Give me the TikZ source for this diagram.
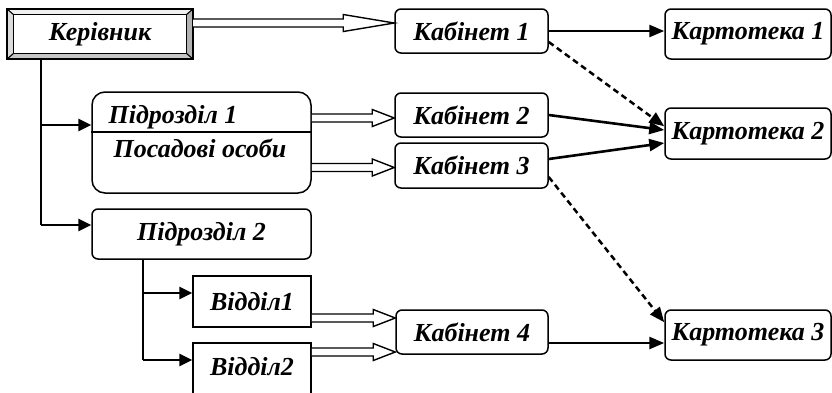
\documentclass[tikz,border=0pt]{standalone}
\usepackage{fontspec}
\setmainfont{Liberation Serif}
\usetikzlibrary{arrows.meta,calc}

% hollow (outlined) arrow: #1 start point, #2 tip, #3 head length
\newcommand\hollowarrow[3]{%
  \draw[hollow] ($(#1)+(0,-4)$) -- ($(#2)+(-#3,-4)$) -- ($(#2)+(-#3,-8.5)$)
    -- (#2) -- ($(#2)+(-#3,8.5)$) -- ($(#2)+(-#3,4)$) -- ($(#1)+(0,4)$);}

\begin{document}
\begin{tikzpicture}[x=1pt,y=-1pt,
  font=\fontsize{26}{30}\selectfont\bfseries\itshape,
  box/.style={draw, line width=1.5pt, fill=white, rounded corners=6pt,
              inner sep=0pt, minimum height=44pt},
  sqbox/.style={box, rounded corners=0pt},
  plain/.style={draw=none, inner sep=0pt},
  hollow/.style={line width=1.4pt, fill=white, line join=miter},
  trunk/.style={line width=1.5pt},
  branch/.style={line width=2.8pt, -{Triangle[length=13pt,width=12pt]}},
  link/.style={line width=2.6pt, -{Triangle[length=15pt,width=12pt]}},
  dashlink/.style={line width=2.5pt, dash pattern=on 6pt off 4pt,
                   -{Triangle[length=15pt,width=12pt]}}]
\useasboundingbox (0,0) rectangle (832,392);

% ---- head of the organisation (bevelled frame)
\node[plain, minimum width=186pt, minimum height=50pt] (ker) at (100,34) {};
\coordinate (kA) at ($(ker.north west)+(7,6)$);
\coordinate (kB) at ($(ker.north east)+(-7,6)$);
\coordinate (kC) at ($(ker.south east)+(-7,-6)$);
\coordinate (kD) at ($(ker.south west)+(7,-6)$);
\fill[gray!12] (ker.north west) -- (ker.north east) -- (kB) -- (kA) -- cycle;
\fill[gray!28] (ker.north west) -- (kA) -- (kD) -- (ker.south west) -- cycle;
\fill[gray!60] (ker.north east) -- (ker.south east) -- (kC) -- (kB) -- cycle;
\fill[gray!45] (ker.south west) -- (kD) -- (kC) -- (ker.south east) -- cycle;
\fill[white] (kA) rectangle (kC);
\draw[line width=1.5pt] (ker.north west) rectangle (ker.south east);
\draw[line width=1.1pt] (kA) rectangle (kC);
\draw[line width=1.1pt] (ker.north west) -- (kA) (ker.north east) -- (kB)
  (ker.south east) -- (kC) (ker.south west) -- (kD);
\node[plain] at (ker.center) {Керівник};

% ---- offices
\node[box, minimum width=153pt] (k1) at (471.5,31) {Кабінет 1};
\node[box, minimum width=153pt] (k2) at (471.5,115) {Кабінет 2};
\node[box, minimum width=153pt, minimum height=45pt] (k3) at (471.5,165.5) {Кабінет 3};
\node[box, minimum width=152pt] (k4) at (472,332) {Кабінет 4};

% ---- card files
\node[box, minimum width=166pt, minimum height=50pt] (c1) at (748,34) {Картотека 1};
\node[box, minimum width=166pt, minimum height=51pt] (c2) at (748,133.5) {Картотека 2};
\node[box, minimum width=166pt, minimum height=50pt] (c3) at (748,335) {Картотека 3};

% ---- subdivisions
\node[box, rounded corners=13pt, minimum width=219pt, minimum height=101pt] (p1) at (201.5,142.5) {};
\draw[line width=1.5pt] (p1.west |- 0,132) -- (p1.east |- 0,132);
\node[plain] (p1a) at (173,117) {Підрозділ 1};
\node[plain] (p1b) at (200,148) {Посадові особи};
\node[box, minimum width=219pt, minimum height=50pt] (p2) at (201.5,234) {Підрозділ 2};

% ---- departments
\node[sqbox, minimum width=118pt, minimum height=51pt] (v1) at (252,301.5) {Відділ1};
\node[sqbox, minimum width=118pt, minimum height=51pt] (v2) at (252,368.5) {};
\node[plain] (v2t) at (252,367) {Відділ2};

% ---- subordination lines
\coordinate (j1) at (41,125);
\coordinate (j2) at (41,225);
\draw[trunk] (ker.south -| j1) -- (j2);
\draw[branch] (j1) -- (j1 -| p1.west);
\draw[branch] (j2) -- (j2 -| p2.west);
\coordinate (j3) at (143,293);
\coordinate (j4) at (143,360);
\draw[trunk] (p2.south -| j3) -- (j4);
\draw[branch] (j3) -- (j3 -| v1.west);
\draw[branch] (j4) -- (j4 -| v2.west);

% ---- document flow to offices
\coordinate (h1s) at (ker.east |- 0,23);  \coordinate (h1e) at (k1.west |- 0,23);
\coordinate (h2s) at (p1.east |- 0,118);  \coordinate (h2e) at (k2.west |- 0,118);
\coordinate (h3s) at (p1.east |- 0,167.5);\coordinate (h3e) at (k3.west |- 0,167.5);
\coordinate (h4s) at (v1.east |- 0,318);  \coordinate (h4e) at (k4.west |- 0,318);
\coordinate (h5s) at (v2.east |- 0,352);  \coordinate (h5e) at (k4.west |- 0,352);
\hollowarrow{h1s}{h1e}{51}
\hollowarrow{h2s}{h2e}{22}
\hollowarrow{h3s}{h3e}{22}
\hollowarrow{h4s}{h4e}{22}
\hollowarrow{h5s}{h5e}{22}

% ---- offices to card files
\draw[link] (k1.east) -- (k1.east -| c1.west);
\draw[link] (k2.east) -- ($(c2.west)+(0,-3.5)$);
\draw[link] ($(k3.east)+(0,-6.5)$) -- ($(c2.west)+(0,9.5)$);
\draw[link] ($(k4.east)+(0,11)$) -- ($(c3.west)+(0,8)$);
\draw[dashlink] ($(k1.east)+(0,11)$) -- ($(c2.north west)+(0,19)$);
\draw[dashlink] ($(k3.east)+(0,11.5)$) -- ($(c3.north west)+(0,13)$);
\end{tikzpicture}
\end{document}
